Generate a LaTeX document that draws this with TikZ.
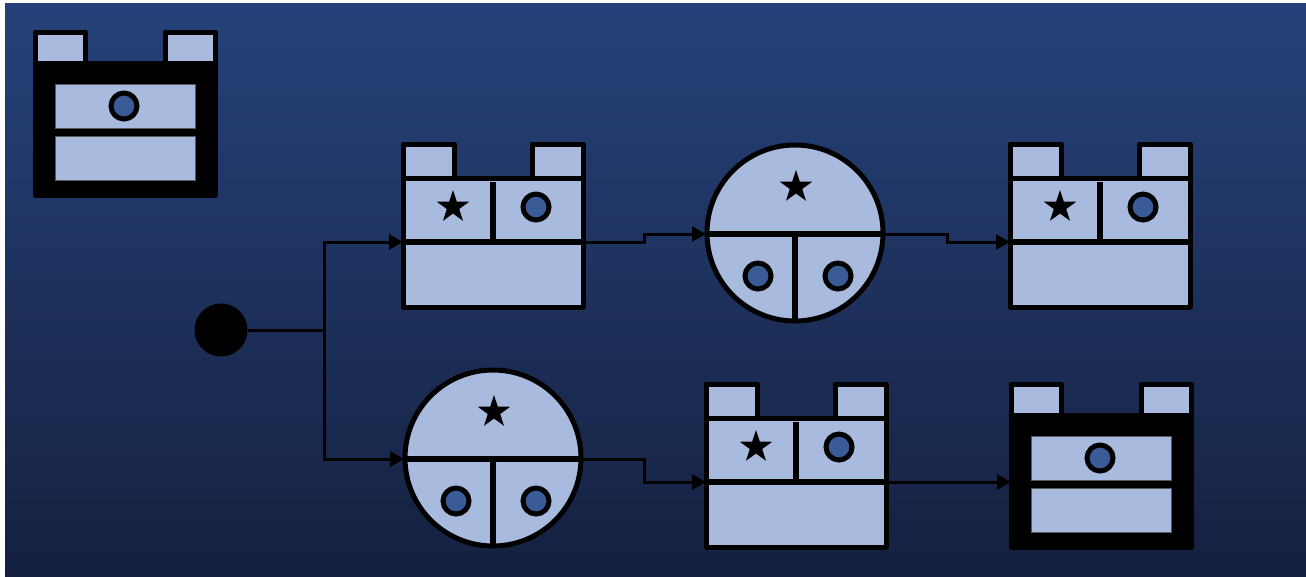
\documentclass[tikz,border=0pt]{standalone}
\usetikzlibrary{arrows.meta,shapes.geometric,calc}
\definecolor{light}{HTML}{A9BADF}
\definecolor{dotc}{HTML}{3B5B96}
\definecolor{bgtop}{HTML}{26427A}
\definecolor{bgbot}{HTML}{15203F}
\tikzset{
  starmark/.style={star, star points=5, star point ratio=2.6, minimum size=34pt, inner sep=0pt, fill=black},
  dotmark/.style={circle, minimum size=26pt, inner sep=0pt, fill=dotc, draw=black, line width=5pt},
  thickline/.style={line width=5pt, line join=round},
  divline/.style={line width=6.5pt},
  conn/.style={line width=3pt, -{Triangle[length=14pt,width=15pt]}},
  plainconn/.style={line width=3pt},
  castle/.pic={
    \draw[thickline, fill=light] (0,0) -- (51,0) -- (51,34) -- (129,34) -- (129,0) -- (180,0) -- (180,163) -- (0,163) -- cycle;
    \draw[thickline] (0,34) -- (180,34);
    \draw[divline] (-1,98) -- (181,98);
    \draw[divline] (90,38) -- (90,98);
    \node[starmark] (-star) at (50,63) {};
    \node[dotmark] (-dot) at (133,63) {};
    \coordinate (-w) at (0,98);
    \coordinate (-e) at (180,98);
  },
  blackcastle/.pic={
    \draw[thickline, fill=black] (0,31) rectangle (180,163);
    \draw[thickline, fill=light] (0,0) rectangle (50,31);
    \draw[thickline, fill=light] (130,0) rectangle (180,31);
    \fill[black] (0,29) rectangle (180,40);
    \draw[fill=light, draw=gray!70!black, line width=0.8pt] (20,52) rectangle (160,96);
    \draw[fill=light, draw=gray!70!black, line width=0.8pt] (20,104) rectangle (160,148);
    \node[dotmark] (-dot) at (89,74) {};
    \coordinate (-w) at (0,98);
  },
  roundnode/.pic={
    \draw[thickline, fill=light] (0,0) circle (88);
    \draw[divline] (-88,1) -- (88,1);
    \draw[divline] (0,1) -- (0,88);
    \node[starmark] (-star) at (1,-46) {};
    \node[dotmark] (-dotl) at (-37,43) {};
    \node[dotmark] (-dotr) at (43,43) {};
    \coordinate (-w) at (-89,1);
    \coordinate (-e) at (89,1);
  }
}
\begin{document}
\begin{tikzpicture}[x=1pt,y=-1pt]
\useasboundingbox (0,0) rectangle (1306,576);
\shade[top color=bgtop, bottom color=bgbot] (5,3) rectangle (1306,576);
\pic (k0) at (35,32) {blackcastle};
\pic (b1) at (403,144) {castle};
\pic (c1) at (795,233) {roundnode};
\pic (b3) at (1010,144) {castle};
\pic (c2) at (493,458) {roundnode};
\pic (b4) at (706,384) {castle};
\pic (k5) at (1011,384) {blackcastle};
\node[circle, fill=black, minimum size=53pt, inner sep=0pt] (start) at (221,330) {};
\coordinate (j) at (324,330);
\draw[plainconn] (start) -- (j);
\draw[conn] (j) |- (b1-w);
\draw[conn] (j) |- (c2-w);
\draw[conn] (b1-e) -| ($(b1-e)!0.5!(c1-w)$) |- (c1-w);
\draw[conn] (c1-e) -| ($(c1-e)!0.5!(b3-w)$) |- (b3-w);
\draw[conn] (c2-e) -| ($(c2-e)!0.5!(b4-w)$) |- (b4-w);
\draw[conn] (b4-e) -- (k5-w);
\end{tikzpicture}
\end{document}
